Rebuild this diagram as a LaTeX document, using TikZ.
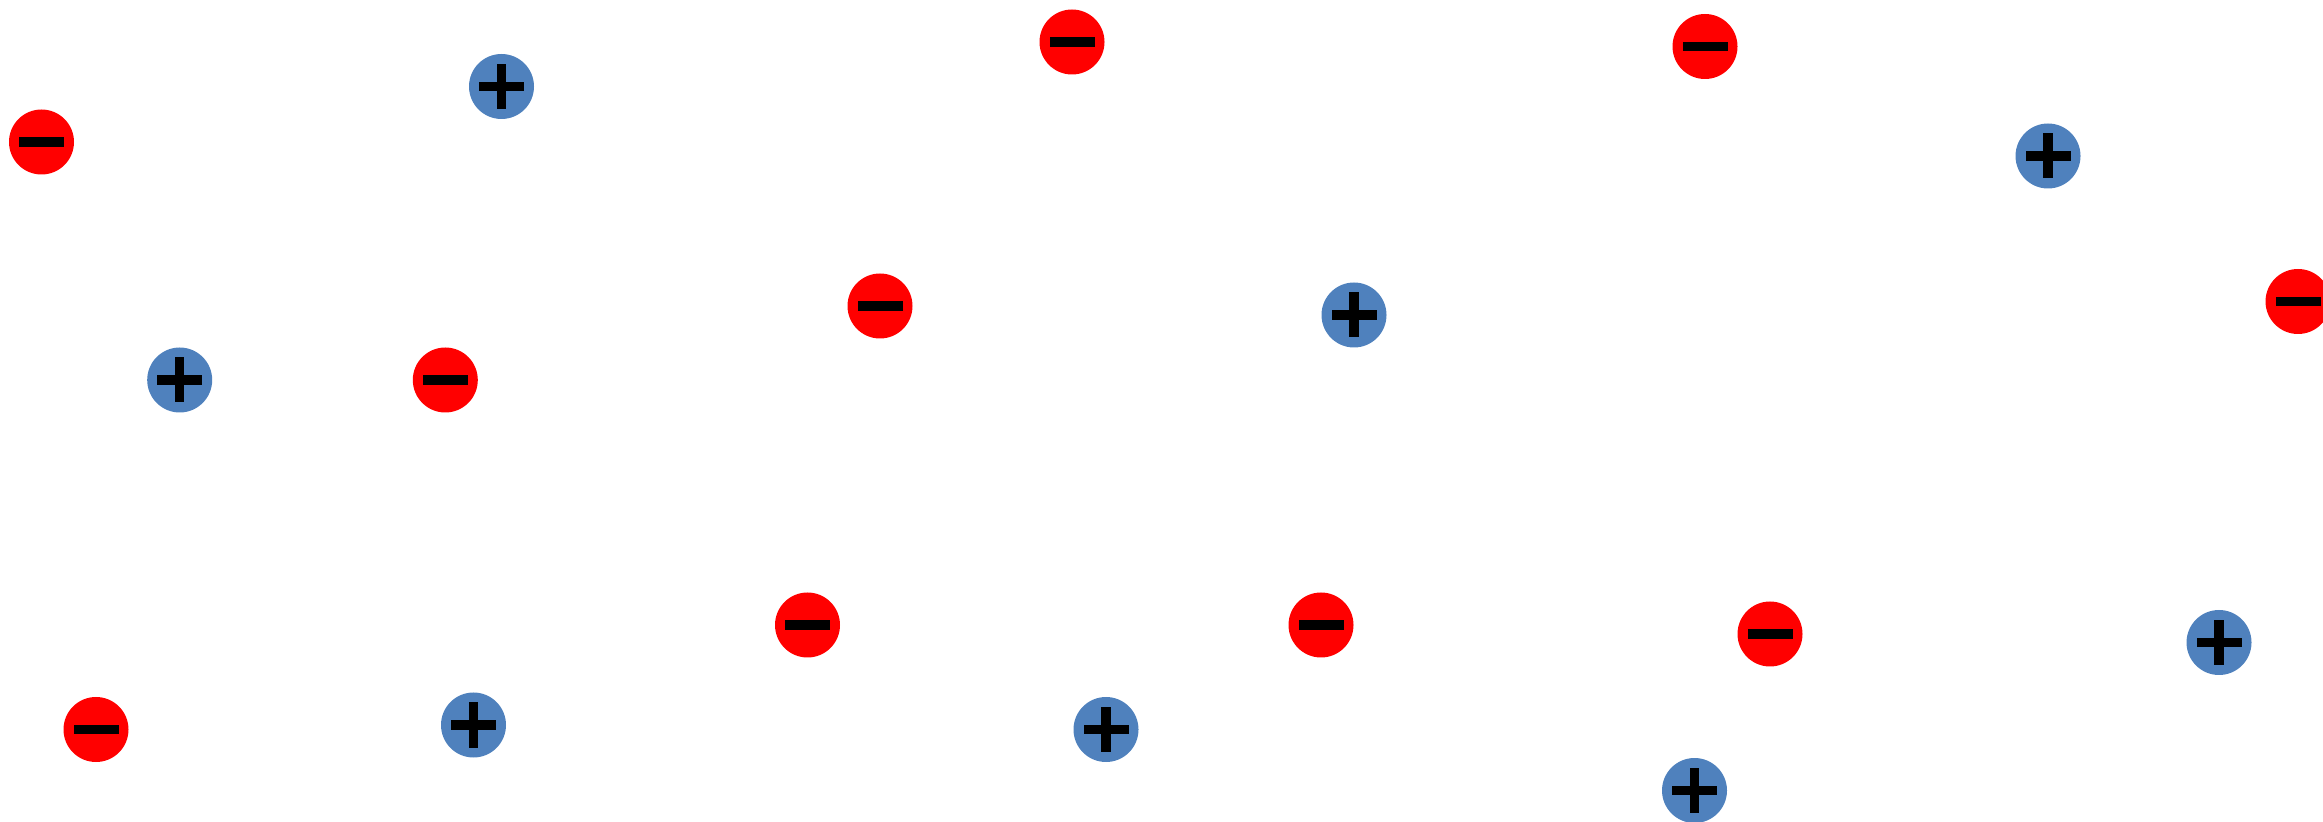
\documentclass[tikz,border=0pt]{standalone}
\definecolor{posblue}{HTML}{4F81BD}
\definecolor{negred}{HTML}{FF0000}
\tikzset{
  charge/.style={circle, minimum size=32.5pt, inner sep=0pt, outer sep=0pt},
  negcharge/.style={charge, fill=negred, path picture={
     \fill[black] ([xshift=-11.25pt,yshift=-2.33pt]path picture bounding box.center) rectangle ([xshift=11.25pt,yshift=2.33pt]path picture bounding box.center);}},
  poscharge/.style={charge, fill=posblue, path picture={
     \fill[black] ([xshift=-11.25pt,yshift=-2.33pt]path picture bounding box.center) rectangle ([xshift=11.25pt,yshift=2.33pt]path picture bounding box.center);
     \fill[black] ([xshift=-2.33pt,yshift=-11.25pt]path picture bounding box.center) rectangle ([xshift=2.33pt,yshift=11.25pt]path picture bounding box.center);}}
}
\begin{document}
\begin{tikzpicture}[x=0.5pt,y=-0.5pt]
\useasboundingbox (0,0) rectangle (2323,822);
\clip (0,0) rectangle (2323,822);
% negative charges
\node[negcharge] (n1) at (41.5,142) {};
\node[negcharge] (n2) at (1072,42) {};
\node[negcharge] (n3) at (1705,46.5) {};
\node[negcharge] (n4) at (880,306) {};
\node[negcharge] (n5) at (445.3,380) {};
\node[negcharge] (n6) at (2298,301.5) {};
\node[negcharge] (n7) at (1770,634) {};
\node[negcharge] (n8) at (807.5,625) {};
\node[negcharge] (n9) at (1321,625) {};
\node[negcharge] (n10) at (96,729.5) {};
% positive charges
\node[poscharge] (p1) at (501.5,86.5) {};
\node[poscharge] (p2) at (179.7,380) {};
\node[poscharge] (p3) at (1354,315) {};
\node[poscharge] (p4) at (2048,156) {};
\node[poscharge] (p5) at (2219,642.5) {};
\node[poscharge] (p6) at (473.5,725) {};
\node[poscharge] (p7) at (1106,729.5) {};
\node[poscharge] (p8) at (1694.5,790.5) {};
\end{tikzpicture}
\end{document}
